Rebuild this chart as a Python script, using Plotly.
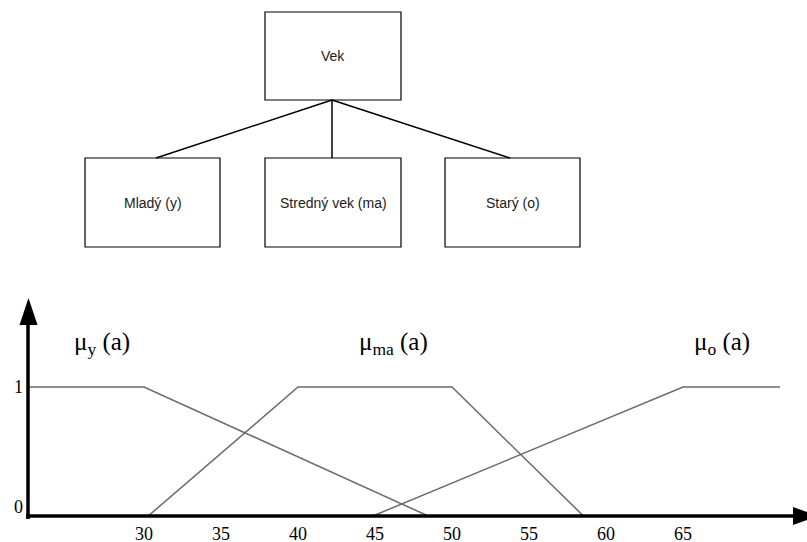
import plotly.graph_objects as go

W, H = 807, 542

# ---------------- data ----------------
young_x = [22.5, 30, 48.6]
young_y = [1, 1, 0]
middle_x = [30.2, 40, 50, 58.6]
middle_y = [0, 1, 1, 0]
old_x = [44.7, 65, 71.3]
old_y = [0, 1, 1]

x_tick_vals = [30, 35, 40, 45, 50, 55, 60, 65]
x_tick_text = ["30", "35", "40", "45", "50", "55", "60", "65"]
y_tick_vals = [0, 1]
y_tick_text = ["0", "1"]

mf_labels = ["μ<sub>y</sub> (a)", "μ<sub>ma</sub> (a)", "μ<sub>o</sub> (a)"]
root_label = "Vek"
child_labels = ["Mladý (y)", "Stredný vek (ma)", "Starý (o)"]

# ---------------- layout helpers (pixel -> paper) ----------------
def px(x):
    return x / W


def py(y):
    return 1 - y / H


AX_X, AX_Y = 28, 517          # axis origin in pixels
Y1_PIX = 387                  # pixel row of membership 1
PX_PER_UNIT = 15.4
X30_PIX = 144
TOP_PIX = 290

x_lo = 30 - (X30_PIX - AX_X) / PX_PER_UNIT
x_hi = 30 + (W - X30_PIX) / PX_PER_UNIT
y_hi = (AX_Y - TOP_PIX) / (AX_Y - Y1_PIX)

SERIF = "Liberation Serif, Times New Roman, serif"
SANS = "Liberation Sans, Arial, Helvetica, sans-serif"
LINE_COLOR = "#6a6a6a"

fig = go.Figure()
for xs, ys in [(young_x, young_y), (middle_x, middle_y), (old_x, old_y)]:
    fig.add_trace(go.Scatter(x=xs, y=ys, mode="lines",
                             line=dict(color=LINE_COLOR, width=1.5),
                             hoverinfo="skip", showlegend=False))

shapes = []
# y axis with arrow
shapes.append(dict(type="line", xref="paper", yref="paper",
                   x0=px(AX_X), x1=px(AX_X), y0=py(AX_Y + 2), y1=py(322),
                   line=dict(color="black", width=3.5)))
shapes.append(dict(type="path", xref="paper", yref="paper",
                   path=f"M {px(19.5)} {py(325)} L {px(37.5)} {py(325)} L {px(28.5)} {py(298)} Z",
                   fillcolor="black", line=dict(width=0)))
# x axis with arrow
shapes.append(dict(type="line", xref="paper", yref="paper",
                   x0=px(AX_X - 2), x1=px(796), y0=py(516), y1=py(516),
                   line=dict(color="black", width=3.5)))
shapes.append(dict(type="path", xref="paper", yref="paper",
                   path=f"M {px(793)} {py(507)} L {px(793)} {py(525)} L {px(818)} {py(516)} Z",
                   fillcolor="black", line=dict(width=0)))

# tree diagram
root_box = (265, 12, 401, 100)
child_boxes = [(85, 158, 220, 247), (265, 158, 401, 247), (445, 158, 580, 247)]
for (x0, y0, x1, y1) in [root_box] + child_boxes:
    shapes.append(dict(type="rect", xref="paper", yref="paper",
                       x0=px(x0), x1=px(x1), y0=py(y1), y1=py(y0),
                       line=dict(color="black", width=1.2), fillcolor="rgba(0,0,0,0)"))
root_cx = 332
child_tops = [156, 332, 510]
for cx in child_tops:
    shapes.append(dict(type="line", xref="paper", yref="paper",
                       x0=px(root_cx), y0=py(root_box[3]), x1=px(cx), y1=py(158),
                       line=dict(color="black", width=1.5)))

annotations = []
annotations.append(dict(text=root_label, xref="paper", yref="paper",
                        x=px((root_box[0] + root_box[2]) / 2), y=py((root_box[1] + root_box[3]) / 2),
                        showarrow=False, xanchor="center", yanchor="middle",
                        font=dict(family=SANS, size=14, color="#1a1a1a")))
for lab, (x0, y0, x1, y1) in zip(child_labels, child_boxes):
    annotations.append(dict(text=lab, xref="paper", yref="paper",
                            x=px((x0 + x1) / 2), y=py((y0 + y1) / 2),
                            showarrow=False, xanchor="center", yanchor="middle",
                            font=dict(family=SANS, size=14, color="#1a1a1a")))

# membership function labels
mf_left_pix = [72, 357, 692]
for lab, lx in zip(mf_labels, mf_left_pix):
    annotations.append(dict(text=lab, xref="paper", yref="paper",
                            x=px(lx), y=py(343), showarrow=False,
                            xanchor="left", yanchor="middle",
                            font=dict(family=SERIF, size=25, color="black")))

# y tick labels
y_shift = {0: 10, 1: 0}
for v, t in zip(y_tick_vals, y_tick_text):
    annotations.append(dict(text=t, xref="paper", yref="y", x=px(18), y=v,
                            yshift=y_shift[v], showarrow=False,
                            xanchor="center", yanchor="middle",
                            font=dict(family=SERIF, size=18, color="black")))

fig.update_layout(
    width=W, height=H,
    margin=dict(l=0, r=0, t=0, b=0, autoexpand=False),
    paper_bgcolor="white", plot_bgcolor="white",
    showlegend=False,
    shapes=shapes, annotations=annotations,
    xaxis=dict(domain=[px(AX_X), 1], range=[x_lo, x_hi],
               showgrid=False, zeroline=False, showline=False,
               tickmode="array", tickvals=x_tick_vals, ticktext=x_tick_text,
               ticks="", ticklabelstandoff=4,
               tickfont=dict(family=SERIF, size=18, color="black")),
    yaxis=dict(domain=[py(AX_Y), py(TOP_PIX)], range=[0, y_hi],
               showgrid=False, zeroline=False, showline=False,
               showticklabels=False, ticks=""),
)

fig.write_html("out.html", config={"displayModeBar": False},
               post_script="document.body.style.margin='0px';document.body.style.padding='0px';")
